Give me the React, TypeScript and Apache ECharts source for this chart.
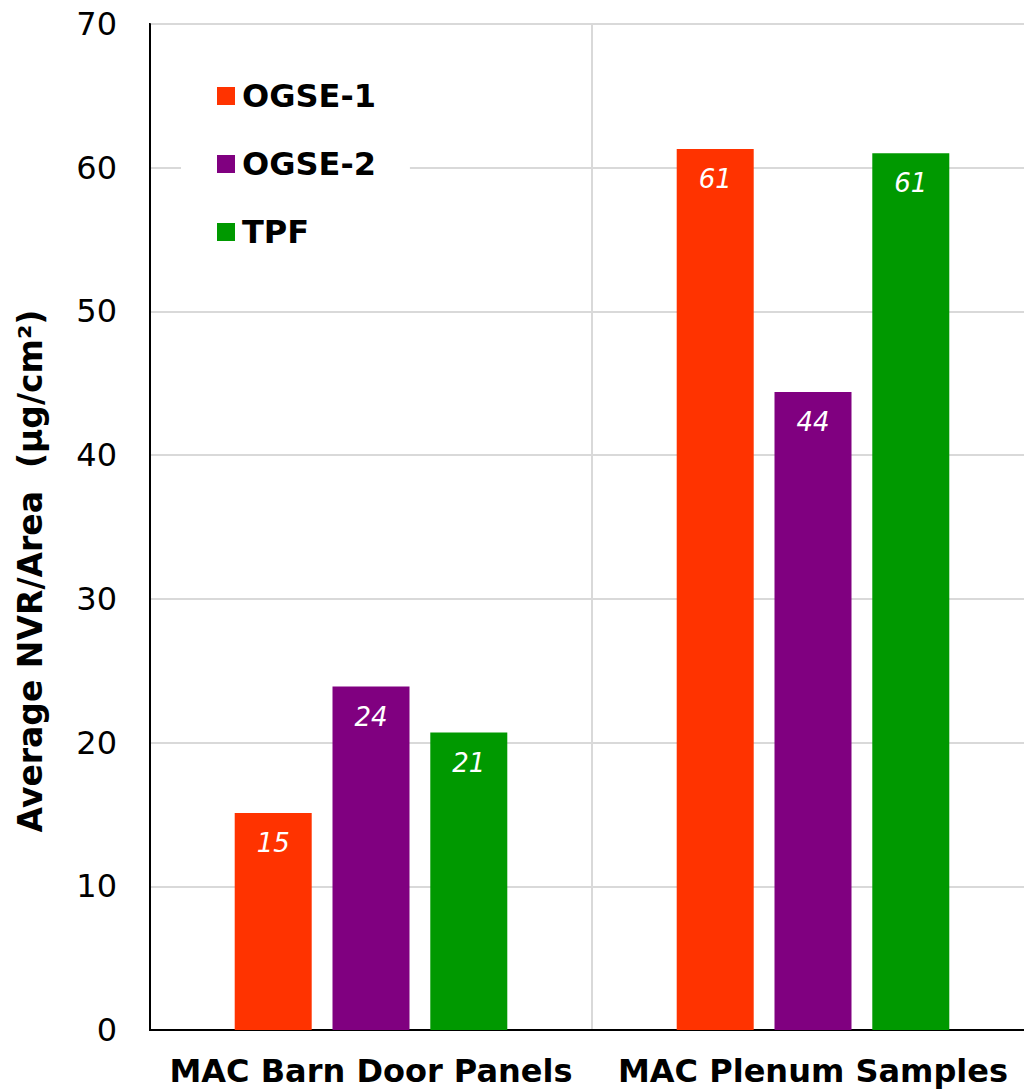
import React, { useEffect, useRef } from "react";
import * as echarts from "echarts";

const categories = ["MAC Barn Door Panels", "MAC Plenum Samples"];
const seriesNames = ["OGSE-1", "OGSE-2", "TPF"];
const ogse1Values = [15.1, 61.3];
const ogse2Values = [23.9, 44.4];
const tpfValues = [20.7, 61.0];
const seriesColors = ["#FF3300", "#800080", "#009900"];
const yAxisTitle = "Average NVR/Area  (µg/cm²)";

const FONT = "'DejaVu Sans', Verdana, sans-serif";

export default function App() {
  const ref = useRef<HTMLDivElement>(null);

  useEffect(() => {
    if (!ref.current) return;
    const chart = echarts.init(ref.current, undefined, { renderer: "svg" });
    const values = [ogse1Values, ogse2Values, tpfValues];

    chart.setOption({
      animation: false,
      backgroundColor: "#ffffff",
      textStyle: { fontFamily: FONT },
      grid: {
        left: 150,
        top: 24,
        width: 884,
        height: 1006,
        show: true,
        borderColor: "#000000",
        borderWidth: 2,
        backgroundColor: "transparent",
      },
      legend: {
        orient: "vertical",
        left: 181,
        top: 60,
        padding: [20, 34, 20, 36],
        backgroundColor: "#ffffff",
        itemWidth: 18,
        itemHeight: 18,
        itemGap: 36,
        icon: "rect",
        textStyle: {
          fontFamily: FONT,
          fontSize: 32,
          fontWeight: "bold",
          color: "#000000",
          padding: [0, 0, 0, 2],
        },
        data: seriesNames,
      },
      xAxis: {
        type: "category",
        data: categories,
        axisLine: { show: true, lineStyle: { color: "#000000", width: 2 } },
        axisTick: { show: false },
        splitLine: {
          show: true,
          interval: 0,
          lineStyle: { color: "#d9d9d9", width: 2 },
        },
        axisLabel: {
          interval: 0,
          fontFamily: FONT,
          fontSize: 32,
          lineHeight: 30,
          fontWeight: "bold",
          color: "#000000",
          margin: 26,
        },
      },
      yAxis: {
        type: "value",
        min: 0,
        max: 70,
        interval: 10,
        axisLine: { show: true, lineStyle: { color: "#000000", width: 2 } },
        axisTick: { show: false },
        splitLine: { show: true, lineStyle: { color: "#d9d9d9", width: 2 } },
        axisLabel: {
          fontFamily: FONT,
          fontSize: 32,
          color: "#000000",
          margin: 33,
        },
      },
      graphic: [
        {
          type: "text",
          x: 30,
          y: 571,
          rotation: Math.PI / 2,
          style: {
            text: yAxisTitle,
            fontFamily: FONT,
            fontSize: 33,
            fontWeight: "bold",
            fill: "#000000",
            align: "center",
            verticalAlign: "middle",
          },
        },
      ],
      series: seriesNames.map((name, i) => ({
        name,
        type: "bar",
        data: values[i],
        barWidth: 77,
        barGap: "27%",
        itemStyle: { color: seriesColors[i] },
        label: {
          show: true,
          position: "insideTop",
          distance: 17,
          formatter: (p: any) => Math.round(p.value).toString(),
          fontFamily: FONT,
          fontSize: 26,
          fontStyle: "italic",
          color: "#ffffff",
        },
      })),
    });

    return () => chart.dispose();
  }, []);

  return (
    <div
      style={{
        position: "absolute",
        left: 0,
        top: 0,
        width: 1024,
        height: 1090,
        overflow: "hidden",
      }}
    >
      <div ref={ref} style={{ width: 1040, height: 1090 }} />
    </div>
  );
}
